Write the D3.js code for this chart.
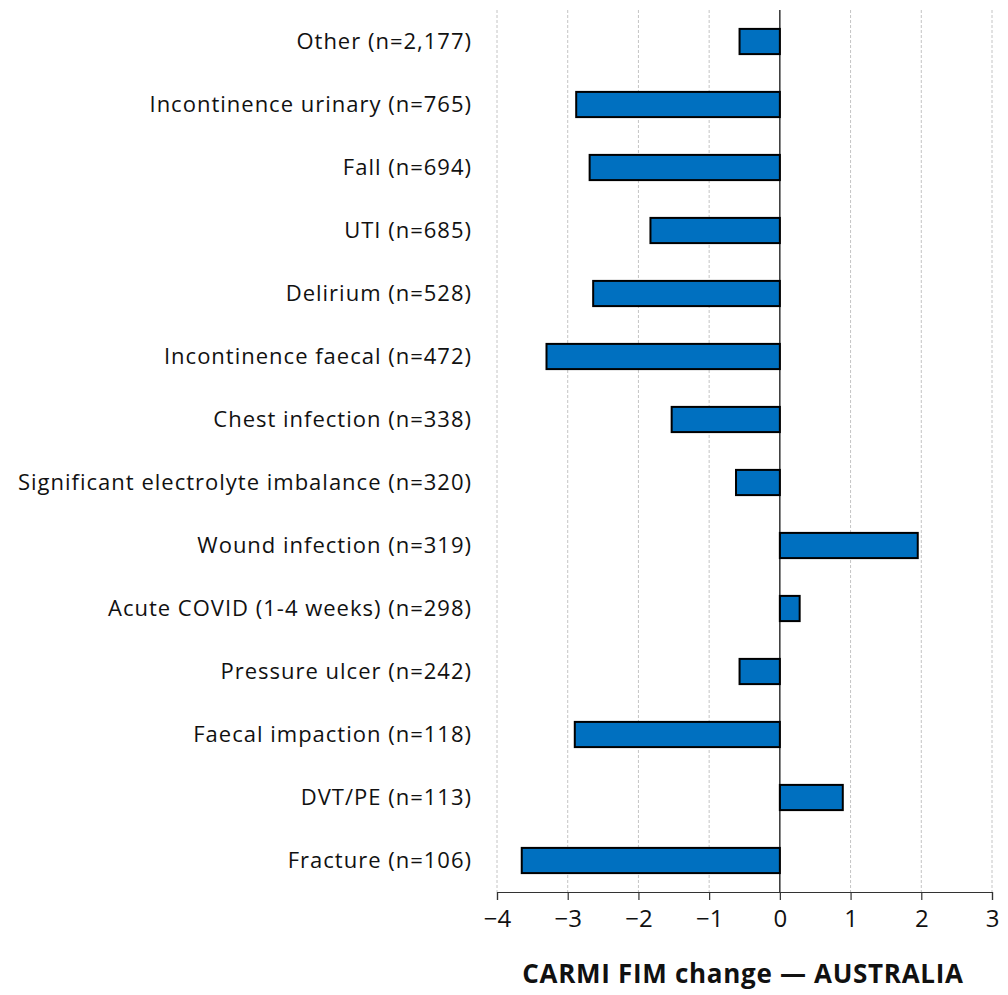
<!DOCTYPE html>
<html>
<head>
<meta charset="utf-8">
<script src="https://cdn.jsdelivr.net/npm/d3@7"></script>
<style>
  body { margin: 0; background: #fff; }
  svg { display: block; }
  text { font-family: "Open Sans", "Lato", sans-serif; fill: #111; }
</style>
</head>
<body>
<svg id="chart" width="1008" height="995"></svg>
<script>
const categories = [
  "Other (n=2,177)",
  "Incontinence urinary (n=765)",
  "Fall (n=694)",
  "UTI (n=685)",
  "Delirium (n=528)",
  "Incontinence faecal (n=472)",
  "Chest infection (n=338)",
  "Significant electrolyte imbalance (n=320)",
  "Wound infection (n=319)",
  "Acute COVID (1-4 weeks) (n=298)",
  "Pressure ulcer (n=242)",
  "Faecal impaction (n=118)",
  "DVT/PE (n=113)",
  "Fracture (n=106)"
];
const values = [-0.57, -2.88, -2.69, -1.83, -2.64, -3.30, -1.53, -0.62, 1.95, 0.28, -0.57, -2.90, 0.89, -3.65];
const xTicks = [-4, -3, -2, -1, 0, 1, 2, 3];
const xTitle = "CARMI FIM change \u2014 AUSTRALIA";

const svg = d3.select("#chart");
const mLeft = 497, mRight = 992, mTop = 10, mBottom = 892;

const x = d3.scaleLinear().domain([-4, 3]).range([mLeft, mRight]);
const y = d3.scaleBand().domain(categories).range([mTop, mBottom]).paddingInner(0.6).paddingOuter(0.3);

// gridlines
svg.append("g").selectAll("line").data(xTicks.filter(d => d !== 0)).join("line")
  .attr("x1", d => x(d)).attr("x2", d => x(d))
  .attr("y1", mTop).attr("y2", mBottom)
  .attr("stroke", "#c4c4c4").attr("stroke-width", 1).attr("stroke-dasharray", "3,2");

// bars
svg.append("g").selectAll("rect").data(categories).join("rect")
  .attr("x", (d, i) => Math.min(x(0), x(values[i])))
  .attr("width", (d, i) => Math.abs(x(values[i]) - x(0)))
  .attr("y", d => y(d))
  .attr("height", y.bandwidth())
  .attr("fill", "#0070C0")
  .attr("stroke", "#000").attr("stroke-width", 2);

// zero line
svg.append("line")
  .attr("x1", x(0)).attr("x2", x(0)).attr("y1", mTop).attr("y2", mBottom)
  .attr("stroke", "#000").attr("stroke-width", 1.2);

// x axis
const xAxis = svg.append("g").attr("transform", `translate(0,${mBottom})`)
  .call(d3.axisBottom(x).tickValues(xTicks).tickSize(8).tickPadding(10).tickFormat(d => d < 0 ? "\u2212" + Math.abs(d) : d));
xAxis.select(".domain").attr("stroke", "#333").attr("stroke-width", 1.2);
xAxis.selectAll(".tick line").attr("stroke", "#333").attr("stroke-width", 1.2);
xAxis.selectAll(".tick text").attr("font-size", 24).attr("font-family", "'Open Sans', sans-serif").attr("fill", "#111");

// category labels
svg.append("g").selectAll("text").data(categories).join("text")
  .attr("x", 472)
  .attr("y", d => y(d) + y.bandwidth() / 2)
  .attr("dy", "0.35em")
  .attr("text-anchor", "end")
  .attr("font-size", 22)
  .attr("letter-spacing", 1)
  .text(d => d);

// axis title
svg.append("text")
  .attr("x", 743).attr("y", 983)
  .attr("text-anchor", "middle")
  .attr("font-size", 26).attr("font-weight", "bold")
  .attr("letter-spacing", 0.7)
  .text(xTitle);
</script>
</body>
</html>
